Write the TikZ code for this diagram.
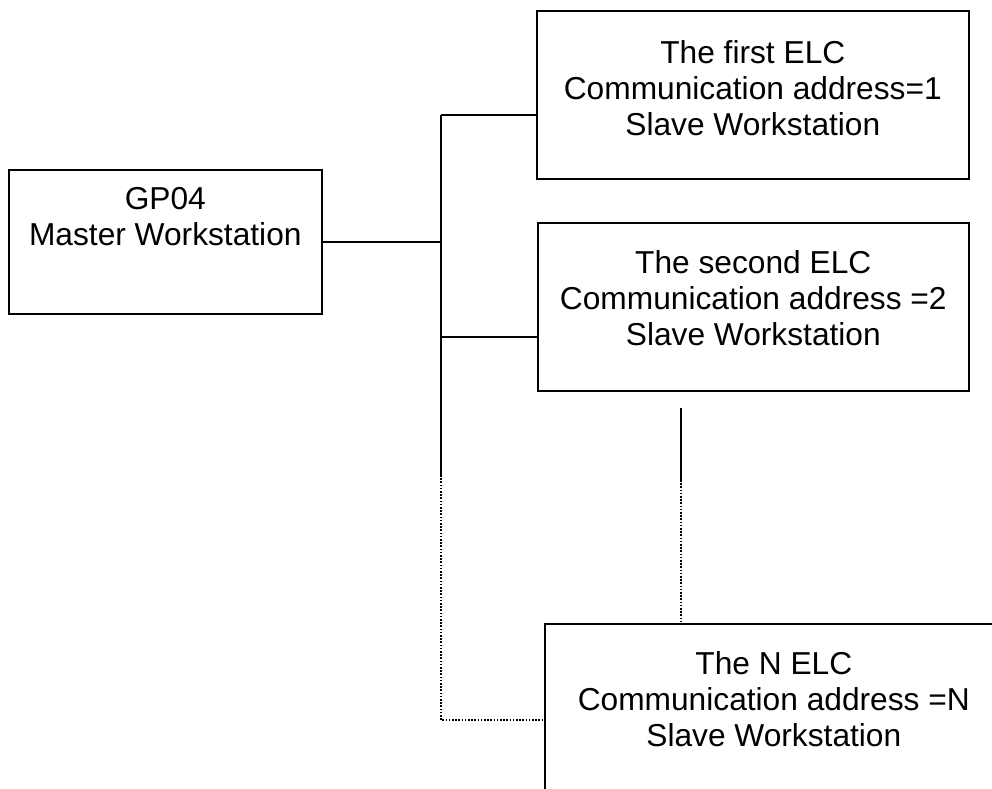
\documentclass[tikz,border=0pt]{standalone}
\usepackage{fontspec}
\setmainfont{Liberation Sans}
\usepackage{tikz}
\usetikzlibrary{positioning}
\newcommand{\wsfont}{\fontsize{31.7pt}{36pt}\selectfont}
\tikzset{
  wsbox/.style={draw,line width=1.6pt,inner sep=0pt,anchor=north west},
  wstext/.style={align=center,font=\wsfont,inner sep=0pt},
  link/.style={line width=1.6pt},
  dotlink/.style={line width=1.6pt,dash pattern=on 1.6pt off 1.6pt}
}

\begin{document}
\begin{tikzpicture}[x=1pt,y=-1pt]
  \useasboundingbox (0,0) rectangle (992,788);
  \clip (0,0) rectangle (992,788);

  \node[wsbox,minimum width=313pt,minimum height=144pt] (master) at (8,169) {};
  \node[wsbox,minimum width=432pt,minimum height=168pt] (elc1) at (536,10) {};
  \node[wsbox,minimum width=431pt,minimum height=168pt] (elc2) at (537,222) {};
  \node[wsbox,minimum width=458pt,minimum height=200pt] (elcn) at (544,623) {};

  \node[wstext,below=18pt of master.north] (mastertext) {GP04\\Master Workstation};
  \node[wstext,below=30pt of elc1.north] (elc1text) {The first ELC\\Communication address=1\\Slave Workstation};
  \node[wstext,below=28pt of elc2.north] (elc2text) {The second ELC\\Communication address =2\\Slave Workstation};
  \node[wstext,below=28pt of elcn.north] (elcntext) {The N ELC\\Communication address =N\\Slave Workstation};

  \coordinate (bus1) at (441,115);
  \coordinate (bus2) at (441,337);
  \coordinate (busend) at (441,475);
  \coordinate (buslow) at (441,720);
  \coordinate (tap) at (681,408);
  \coordinate (tapend) at (681,480);

  \draw[link] (master.east) -- (master.east -| bus1);
  \draw[link] (bus1) -- (busend);
  \draw[link] (bus1) -- (bus1 -| elc1.west);
  \draw[link] (bus2) -- (bus2 -| elc2.west);
  \draw[dotlink] (busend) -- (buslow) -- (buslow -| elcn.west);

  \draw[link] (tap) -- (tapend);
  \draw[dotlink] (tapend) -- (tapend |- elcn.north);
\end{tikzpicture}
\end{document}
